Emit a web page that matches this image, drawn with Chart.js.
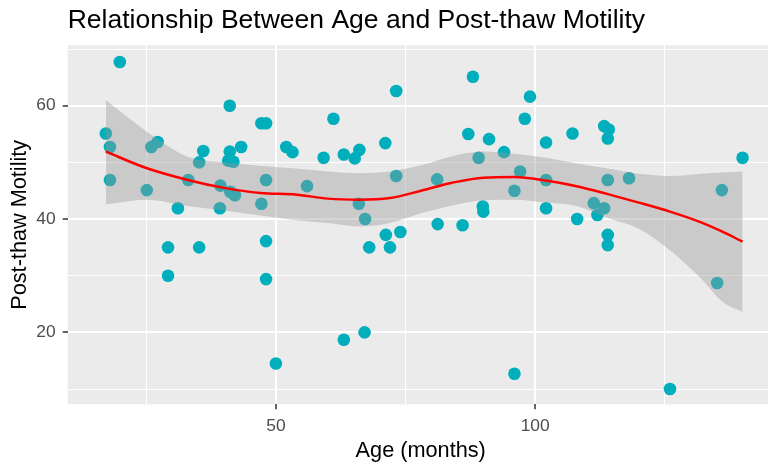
<!DOCTYPE html>
<html>
<head>
<meta charset="utf-8">
<script src="https://cdn.jsdelivr.net/npm/chart.js@4.4.1/dist/chart.umd.min.js"></script>
<style>
  html, body { margin: 0; padding: 0; background: #fff; }
  #wrap { width: 768px; height: 468px; overflow: hidden; }
  #chart { display: block; }
</style>
</head>
<body>
<div id="wrap"><canvas id="chart" width="780" height="468"></canvas></div>
<script>
// observed points
const ageMonths = [17.2, 18.0, 18.0, 19.9, 25.1, 26.0, 27.2, 29.2, 29.2, 31.1, 33.1, 35.2, 35.2, 36.0, 39.2, 39.3,
  41.1, 41.1, 41.8, 40.8, 41.2, 42.1, 43.3, 47.2, 48.1, 48.1, 47.2, 48.1, 48.1, 50.0, 52.0, 53.2, 56.0, 59.2,
  61.1, 63.1, 63.1, 65.2, 66.1, 66.0, 67.2, 67.1, 68.0, 71.1, 71.2, 72.0, 73.2, 73.2, 74.0, 81.1, 81.2, 86.0,
  87.1, 88.0, 89.1, 89.9, 90.0, 91.1, 94.0, 96.0, 96.0, 97.1, 98.0, 99.0, 102.1, 102.1, 102.1, 107.2, 108.1,
  111.3, 112.0, 113.3, 113.3, 114.2, 114.0, 114.0, 114.0, 114.0, 118.1, 126.0, 135.1, 136.0, 140.0];
const motility = [55.1, 52.7, 46.9, 67.7, 45.1, 52.7, 53.6, 35.0, 30.0, 41.9, 46.9, 35.0, 50.0, 52.0, 41.9, 45.9,
  60.0, 51.9, 50.1, 50.3, 44.8, 44.2, 52.7, 56.9, 56.9, 46.9, 42.7, 36.1, 29.4, 14.5, 52.7, 51.8, 45.8, 50.8,
  57.7, 51.4, 18.7, 50.7, 52.2, 42.7, 40.0, 20.0, 35.0, 53.4, 37.2, 35.0, 62.6, 47.6, 37.7, 47.0, 39.1, 38.9,
  55.0, 65.1, 50.8, 42.2, 41.3, 54.1, 51.8, 45.0, 12.7, 48.4, 57.7, 61.6, 53.5, 46.9, 41.9, 55.1, 40.0,
  42.8, 40.7, 41.9, 56.4, 55.8, 54.2, 46.9, 37.2, 35.4, 47.2, 10.0, 28.7, 45.1, 50.8];

// loess fit and its 95% band
const fitAge = [17.2, 25, 33, 40, 47, 54, 60, 66, 72, 78, 84, 90, 96, 102, 108, 114, 120, 126, 132, 136, 140];
const fitMotility = [51.9, 49.0, 46.9, 45.5, 44.6, 44.3, 43.6, 43.4, 43.7, 45.0, 46.4, 47.3, 47.4, 46.8, 45.8, 44.4, 42.9, 41.3, 39.4, 37.8, 36.0];
const fitLower = [42.6, 43.4, 42.3, 41.5, 40.6, 39.8, 39.3, 38.7, 39.3, 41.0, 42.4, 43.3, 43.4, 42.9, 42.3, 40.2, 38.3, 34.5, 29.5, 25.5, 23.6];
const fitUpper = [61.0, 55.5, 51.0, 50.0, 49.4, 48.9, 48.4, 48.1, 48.4, 49.5, 51.1, 51.9, 51.5, 50.8, 49.8, 48.9, 48.0, 47.6, 48.0, 48.2, 48.4];

const xTicks = [25, 50, 75, 100, 125];
const xLabels = [50, 100];
const yTicks = [10, 20, 30, 40, 50, 60, 70];
const yLabels = [20, 40, 60];

const FONT = "'Liberation Sans', Arial, sans-serif";
const pts = (xs, ys) => xs.map((x, i) => ({ x, y: ys[i] }));

const panelBg = {
  id: "panelBg",
  beforeDraw(chart) {
    const { ctx, chartArea: a } = chart;
    ctx.save();
    ctx.fillStyle = "#EBEBEB";
    ctx.fillRect(a.left, a.top, a.right - a.left, a.bottom - a.top);
    ctx.restore();
  }
};

const isMajor = (labels, c) => !!c.tick && labels.includes(c.tick.value);
const gridStyle = (labels) => ({
  color: "#FFFFFF",
  lineWidth: (c) => isMajor(labels, c) ? 2 : 1,
  tickColor: (c) => isMajor(labels, c) ? "#333333" : "rgba(0,0,0,0)",
  tickWidth: 1.5,
  tickLength: 5,
  drawTicks: true
});

new Chart(document.getElementById("chart"), {
  type: "scatter",
  data: {
    datasets: [
      {
        type: "line", label: "fit", order: 1,
        data: pts(fitAge, fitMotility),
        borderColor: "#FF0000", borderWidth: 2.5,
        pointRadius: 0, fill: false, cubicInterpolationMode: "monotone"
      },
      {
        type: "line", label: "lower", order: 2,
        data: pts(fitAge, fitLower),
        borderWidth: 0, borderColor: "rgba(0,0,0,0)",
        pointRadius: 0, fill: false, cubicInterpolationMode: "monotone"
      },
      {
        type: "line", label: "upper", order: 2,
        data: pts(fitAge, fitUpper),
        borderWidth: 0, borderColor: "rgba(0,0,0,0)",
        backgroundColor: "rgba(153,153,153,0.4)",
        pointRadius: 0, fill: "-1", cubicInterpolationMode: "monotone"
      },
      {
        label: "points", order: 3,
        data: pts(ageMonths, motility),
        backgroundColor: "#00AFBB", borderWidth: 0,
        pointRadius: 6.3, pointHoverRadius: 6.3
      }
    ]
  },
  options: {
    responsive: false,
    animation: false,
    events: [],
    layout: { padding: { left: 0, right: 2, top: 0, bottom: 0 } },
    plugins: {
      legend: { display: false },
      tooltip: { enabled: false },
      title: {
        display: true,
        text: "Relationship Between Age and Post-thaw Motility",
        align: "start",
        fullSize: false,
        color: "#000000",
        font: { family: FONT, size: 26.5, weight: "normal" },
        padding: { top: 4.6, bottom: 8.9 }
      }
    },
    scales: {
      x: {
        type: "linear", min: 9.85, max: 146,
        afterBuildTicks: (s) => { s.ticks = xTicks.map(v => ({ value: v })); },
        afterFit: (s) => { s.height = 63.7; },
        border: { display: false },
        grid: gridStyle(xLabels),
        ticks: {
          callback: (v) => xLabels.includes(v) ? String(v) : "",
          color: "#4D4D4D", font: { family: FONT, size: 17.4 },
          padding: 6, maxRotation: 0, autoSkip: false
        },
        title: {
          display: true, text: "Age (months)", color: "#000000",
          font: { family: FONT, size: 21.7 }, padding: { top: 0, bottom: 4 }
        }
      },
      y: {
        type: "linear", min: 7.3, max: 70.66,
        afterBuildTicks: (s) => { s.ticks = yTicks.map(v => ({ value: v })); },
        afterFit: (s) => { s.width = 67.7; },
        border: { display: false },
        grid: gridStyle(yLabels),
        ticks: {
          callback: (v) => yLabels.includes(v) ? String(v) : "",
          color: "#4D4D4D", font: { family: FONT, size: 17.4 },
          padding: 7, autoSkip: false
        },
        title: {
          display: true, text: "Post-thaw Motility", color: "#000000",
          font: { family: FONT, size: 21.7 }, padding: { top: 7, bottom: 0 }
        }
      }
    }
  },
  plugins: [panelBg]
});
</script>
</body>
</html>
